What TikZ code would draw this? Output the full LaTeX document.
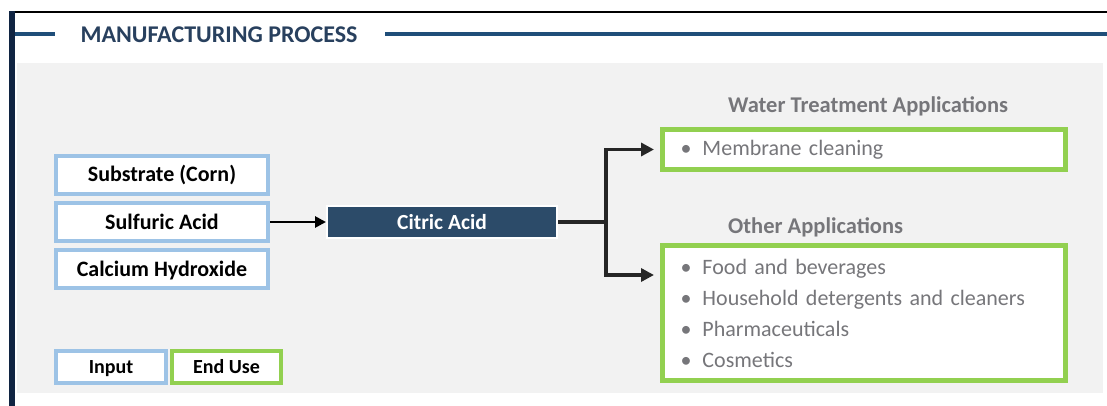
\documentclass[tikz,border=0pt]{standalone}
\usepackage{fontspec}
\setmainfont{Carlito}
\usetikzlibrary{arrows.meta}
\definecolor{MfgNavy}{RGB}{31,78,121}
\definecolor{MfgDark}{RGB}{16,36,66}
\definecolor{MfgTitle}{RGB}{40,64,94}
\definecolor{MfgSlate}{RGB}{44,75,105}
\definecolor{MfgBlue}{RGB}{157,195,230}
\definecolor{MfgGreen}{RGB}{146,208,80}
\definecolor{MfgGray}{RGB}{118,118,122}
\definecolor{MfgPanel}{RGB}{242,242,242}
\definecolor{MfgArrow}{RGB}{38,38,38}
\newcommand{\appitem}[1]{\makebox[22pt][l]{\textbullet}#1}

\begin{document}
\begin{tikzpicture}[x=1pt,y=-1pt,
    inbox/.style={draw=MfgBlue,line width=4pt,fill=white,minimum width=212pt,minimum height=38pt,inner sep=0pt,text height=16pt,text depth=2pt,font=\fontsize{22}{26}\selectfont\bfseries},
    usebox/.style={draw=MfgGreen,line width=5pt,fill=white,minimum width=403pt,text width=367pt,inner xsep=18pt,inner ysep=0pt,align=left,text=MfgGray,font=\fontsize{22}{31}\selectfont},
    apptitle/.style={anchor=west,inner sep=0pt,text=MfgGray,font=\fontsize{22.5}{26}\selectfont\bfseries},
    flow/.style={-{Triangle[length=13pt,width=13pt]},line width=3.5pt,draw=MfgArrow},
    feed/.style={-{Triangle[length=11pt,width=11pt]},line width=2.8pt,draw=black}]
  \fill[white] (0,0) rectangle (1107,406);
  \useasboundingbox (0,0) rectangle (1107,406);

  % frame and heading
  \draw[black,line width=1.5pt] (9,12) -- (1107,12);
  \fill[MfgDark] (9,11) rectangle (15,406);
  \fill[MfgPanel] (17,63) rectangle (1103,393);
  \node[text=MfgTitle,font=\fontsize{24}{28}\selectfont\bfseries] (title) at (219,35) {MANUFACTURING PROCESS};
  \draw[MfgNavy,line width=3.5pt] (15,34) -- (55,34);
  \draw[MfgNavy,line width=3.5pt] (385,34) -- (1107,34);

  % inputs
  \node[inbox] (substrate) at (162,175) {Substrate (Corn)};
  \node[inbox] (sulfuric) at (162,222) {Sulfuric Acid};
  \node[inbox] (calcium) at (162,269) {Calcium Hydroxide};

  \node[draw=white,line width=2pt,fill=MfgSlate,text=white,minimum width=230pt,minimum height=32pt,inner sep=0pt,text height=15pt,text depth=1pt,font=\fontsize{21.5}{25}\selectfont\bfseries] (citric) at (442,222) {Citric Acid};
  \draw[feed] (sulfuric.east) -- (sulfuric.east -| citric.west);

  % end uses
  \node[apptitle] (watertitle) at (728,106) {Water Treatment Applications};
  \node[usebox,minimum height=40pt] (water) at (864,149.5) {\appitem{Membrane cleaning}};
  \node[apptitle] (othertitle) at (728,227) {Other Applications};
  \node[usebox,minimum height=135pt] (other) at (864,313) {\appitem{Food and beverages}\\
    \appitem{Household detergents and cleaners}\\
    \appitem{Pharmaceuticals}\\
    \appitem{Cosmetics}};

  \coordinate (split) at ([xshift=48pt]citric.east);
  \draw[flow,shorten >=6pt] (citric.east) -- (split) |- (water.west);
  \draw[flow,shorten >=6pt] (split) |- ([yshift=38pt]other.west);

  % key
  \node[inbox,minimum width=110pt,minimum height=32pt,text height=15pt,text depth=2pt,font=\fontsize{20}{24}\selectfont\bfseries] (inputkey) at (111,367) {Input};
  \node[inbox,draw=MfgGreen,minimum width=109pt,minimum height=32pt,text height=15pt,text depth=2pt,font=\fontsize{20}{24}\selectfont\bfseries] (usekey) at (226.5,367) {End Use};
\end{tikzpicture}
\end{document}
